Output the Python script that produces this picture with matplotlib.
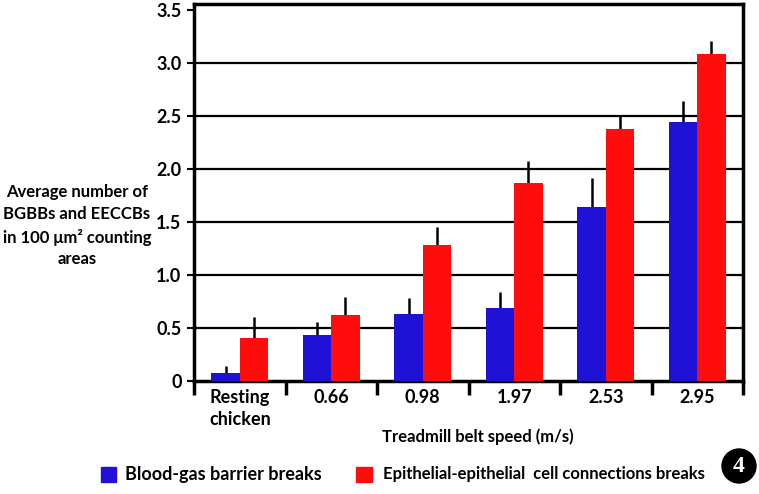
import matplotlib
matplotlib.use("Agg")
import matplotlib.pyplot as plt
from matplotlib.patches import Rectangle, Circle
import numpy as np

plt.rcParams["font.family"] = ["Lato", "DejaVu Sans"]
plt.rcParams["font.weight"] = "bold"

categories = ["Resting\nchicken", "0.66", "0.98", "1.97", "2.53", "2.95"]
bgbb = [0.08, 0.43, 0.63, 0.69, 1.64, 2.45]
bgbb_top = [0.145, 0.56, 0.78, 0.84, 1.92, 2.64]
eeccb = [0.41, 0.62, 1.28, 1.87, 2.38, 3.09]
eeccb_top = [0.60, 0.79, 1.45, 2.08, 2.51, 3.21]
yticks = [0, 0.5, 1.0, 1.5, 2.0, 2.5, 3.0, 3.5]
ytick_labels = ["0", "0.5", "1.0", "1.5", "2.0", "2.5", "3.0", "3.5"]

blue = "#1f12d6"
red = "#ff0d0d"

x = np.arange(len(categories))
w = 0.31

fig = plt.figure(figsize=(7.59, 4.94), dpi=100)
ax = fig.add_axes([194 / 759, 1 - 381 / 494, 549 / 759, 377 / 494])

ax.bar(x - w / 2, bgbb, w, color=blue, zorder=3)
ax.bar(x + w / 2, eeccb, w, color=red, zorder=3)
b_err = np.array(bgbb_top) - np.array(bgbb)
r_err = np.array(eeccb_top) - np.array(eeccb)
ax.errorbar(x - w / 2, bgbb, yerr=[np.zeros(len(x)), b_err], fmt="none",
            ecolor="black", elinewidth=1.8, capsize=0, zorder=2)
ax.errorbar(x + w / 2, eeccb, yerr=[np.zeros(len(x)), r_err], fmt="none",
            ecolor="black", elinewidth=1.8, capsize=0, zorder=2)

ax.set_xlim(-0.5, len(categories) - 0.5)
ax.set_ylim(0, 3.56)

ax.set_yticks(yticks)
ax.set_yticklabels(ytick_labels, fontsize=13, fontweight="bold")
ax.tick_params(axis="y", direction="out", length=5, width=1.5, pad=4)
for t in yticks[1:7]:
    ax.axhline(t, color="black", linewidth=1.6, zorder=1)

ax.set_xticks(np.arange(-0.5, len(categories)), minor=False)
ax.set_xticklabels([])
ax.tick_params(axis="x", which="major", direction="out", length=10, width=2.5)
ax.set_xticks(x, minor=True)
ax.set_xticklabels(categories, minor=True, fontsize=13, fontweight="bold",
                   va="top", linespacing=1.35)
ax.tick_params(axis="x", which="minor", length=0, pad=6)

for s in ax.spines.values():
    s.set_linewidth(2.5)
    s.set_color("black")

fig.text(77 / 759, 1 - 226 / 494,
         "Average number of\nBGBBs and EECCBs\nin 100 \u03bcm\u00b2 counting\nareas",
         ha="center", va="center", fontsize=12, fontweight="bold",
         linespacing=1.45)
fig.text(478 / 759, 1 - 437 / 494, "Treadmill belt speed (m/s)",
         ha="center", va="center", fontsize=12, fontweight="bold")

# legend
fig.patches.append(Rectangle((101 / 759, 1 - 482 / 494), 15 / 759, 15 / 494,
                             transform=fig.transFigure, color=blue))
fig.text(125 / 759, 1 - 474 / 494, "Blood-gas barrier breaks",
         ha="left", va="center", fontsize=13, fontweight="bold")
fig.patches.append(Rectangle((356 / 759, 1 - 482 / 494), 16 / 759, 15 / 494,
                             transform=fig.transFigure, color=red))
fig.text(383 / 759, 1 - 474 / 494, "Epithelial-epithelial  cell connections breaks",
         ha="left", va="center", fontsize=12, fontweight="bold")

# panel number
fig.patches.append(Circle((739, 494 - 466), 17, transform=None, color="black"))
fig.text(739 / 759, 1 - 466 / 494, "4", ha="center", va="center",
         fontsize=17, fontweight="bold", color="white", family="Liberation Serif")

fig.savefig("out.png", dpi=100)
